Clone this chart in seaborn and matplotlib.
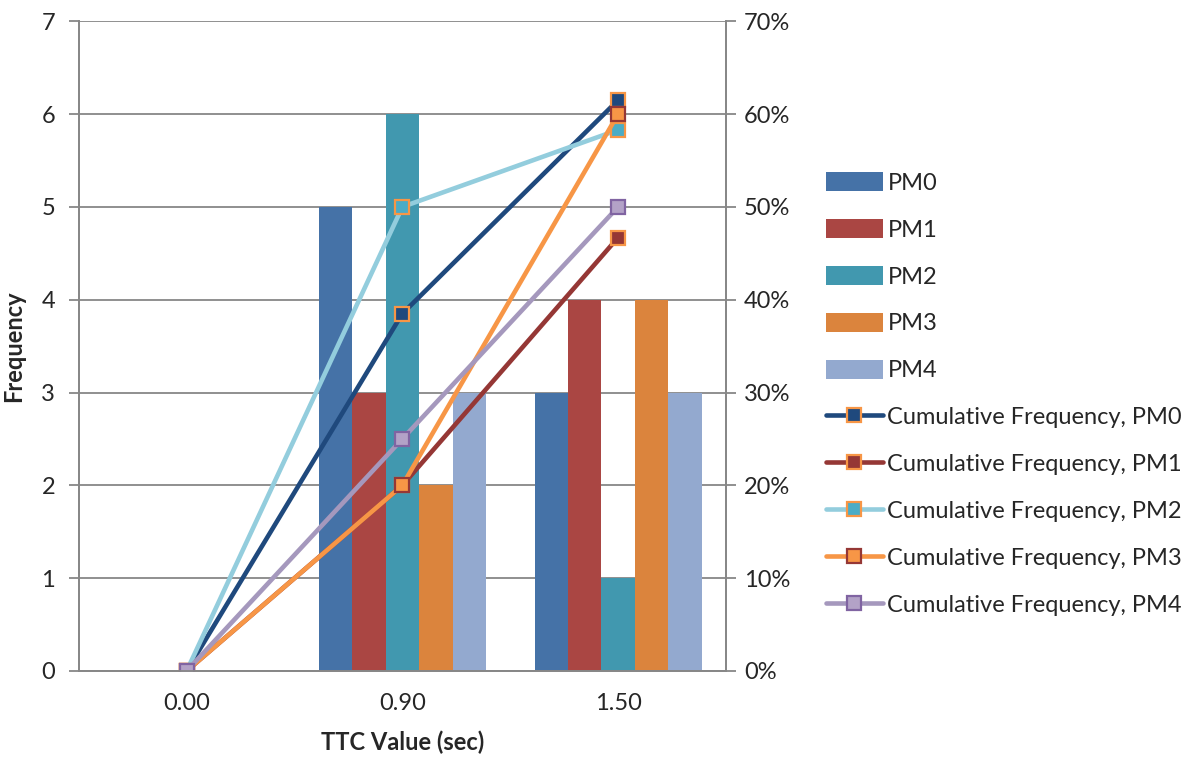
import matplotlib
matplotlib.use("Agg")
import matplotlib.pyplot as plt
from matplotlib.ticker import FuncFormatter, FixedLocator
import pandas as pd
import seaborn as sns

# Données
ttc = ["0.00", "0.90", "1.50"]
series = ["PM0", "PM1", "PM2", "PM3", "PM4"]
freq = {
    "PM0": [0, 5, 3],
    "PM1": [0, 3, 4],
    "PM2": [0, 6, 1],
    "PM3": [0, 2, 4],
    "PM4": [0, 3, 3],
}
cumul = {
    "PM0": [0.0, 0.385, 0.615],
    "PM1": [0.0, 0.20, 0.467],
    "PM2": [0.0, 0.50, 0.583],
    "PM3": [0.0, 0.20, 0.60],
    "PM4": [0.0, 0.25, 0.50],
}

bar_colors = ["#4572a7", "#aa4643", "#4198af", "#db843d", "#93a9cf"]
line_colors = ["#1f497d", "#953735", "#93cddd", "#f79646", "#a598bd"]
marker_faces = ["#1f497d", "#953735", "#4bacc6", "#f79646", "#b3a2c7"]
marker_edges = ["#f79646", "#f79646", "#f79646", "#953735", "#8064a2"]

sns.set_style("white")
plt.rcParams["font.family"] = ["Lato", "DejaVu Sans"]
grey = "#878787"
fs = 17

df = pd.DataFrame(
    [(t, s, freq[s][i]) for s in series for i, t in enumerate(ttc)],
    columns=["ttc", "serie", "freq"],
)

fig = plt.figure(figsize=(11.94, 7.59), dpi=100)
ax = fig.add_axes([0.066, 0.116, 0.542, 0.856])

sns.barplot(data=df, x="ttc", y="freq", hue="serie", order=ttc, hue_order=series,
            palette=bar_colors, saturation=1, width=0.775, linewidth=0, ax=ax, legend=True)

ax2 = ax.twinx()
for i, s in enumerate(series):
    cdf = pd.DataFrame({"x": range(len(ttc)), "y": cumul[s]})
    sns.lineplot(data=cdf, x="x", y="y", ax=ax2, color=line_colors[i], linewidth=3.3,
                 marker="s", markersize=10, markerfacecolor=marker_faces[i],
                 markeredgecolor=marker_edges[i], markeredgewidth=1.6,
                 label="Cumulative Frequency, " + s)

ax.set_ylim(0, 7)
ax2.set_ylim(0, 0.7)
ax.set_xlim(-0.5, len(ttc) - 0.5)
ax.set_yticks(range(8))
ax2.set_yticks([i / 10 for i in range(8)])
ax2.yaxis.set_major_formatter(FuncFormatter(lambda v, p: f"{v:.0%}"))

ax.yaxis.grid(True, color=grey, linewidth=1.3)
ax.set_axisbelow(True)
ax.set_xticks(range(len(ttc)))
ax.set_xticklabels(ttc)
ax.xaxis.set_minor_locator(FixedLocator([i - 0.5 for i in range(len(ttc) + 1)]))
ax.tick_params(axis="x", which="major", length=0, labelsize=fs, pad=16)
ax.tick_params(axis="x", which="minor", length=7, width=1.3, color=grey, direction="out")
ax.tick_params(axis="y", length=7, width=1.3, color=grey, labelsize=fs, direction="out", pad=10)
ax2.tick_params(axis="y", length=7, width=1.3, color=grey, labelsize=fs, direction="out", pad=6)

for a in (ax, ax2):
    a.spines["top"].set_visible(False)
    for sp in ("left", "right", "bottom"):
        a.spines[sp].set_color(grey)
        a.spines[sp].set_linewidth(1.3)

ax.set_xlabel("TTC Value (sec)", fontsize=fs, fontweight="bold", labelpad=12)
ax.set_ylabel("Frequency", fontsize=fs, fontweight="bold", labelpad=12)
ax2.set_ylabel("")

# Légende commune à droite
h1, l1 = ax.get_legend_handles_labels()
h2, l2 = ax2.get_legend_handles_labels()
ax.get_legend().remove()
ax2.get_legend().remove()
fig.legend(h1 + h2, l1 + l2, loc="center left", bbox_to_anchor=(0.674, 0.481),
           frameon=False, fontsize=fs, handlelength=2.4, handleheight=0.85,
           labelspacing=1.07, handletextpad=0.2)

fig.savefig("out.png", dpi=100)
